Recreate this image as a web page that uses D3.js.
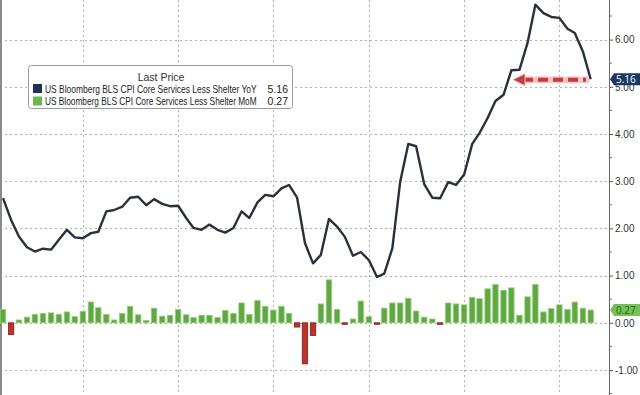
<!DOCTYPE html>
<html>
<head>
<meta charset="utf-8">
<script src="https://cdn.jsdelivr.net/npm/d3@7"></script>
<style>
  body { margin: 0; background: #fff; }
  svg { display: block; font-family: "Open Sans", "DejaVu Sans", sans-serif; }
  .lg { font-family: "Liberation Sans", Arial, sans-serif; }
</style>
</head>
<body>
<svg id="chart" width="640" height="395"></svg>
<script>
// monthly, Mar 2017 .. May 2023
const startMonth = new Date(Date.UTC(2017, 2, 1));
const endMonth = new Date(Date.UTC(2023, 5, 1));
const months = d3.utcMonth.range(startMonth, endMonth);

const yoy = [2.64, 2.18, 1.83, 1.60, 1.51, 1.57, 1.55, 1.76, 1.97, 1.81,
             1.79, 1.90, 1.93, 2.36, 2.39, 2.46, 2.65, 2.67, 2.49, 2.62,
             2.52, 2.47, 2.48, 2.22, 2.01, 1.97, 2.08, 1.97, 1.91, 2.01,
             2.36, 2.22, 2.55, 2.71, 2.68, 2.85, 2.92, 2.65, 1.69, 1.26,
             1.44, 2.20, 2.04, 1.82, 1.42, 1.50, 1.33, 0.97, 1.04, 1.58,
             2.99, 3.79, 3.74, 2.94, 2.65, 2.64, 2.98, 2.92, 3.14, 3.79,
             4.02, 4.34, 4.70, 4.83, 5.35, 5.36, 5.93, 6.74, 6.56, 6.48,
             6.46, 6.23, 6.14, 5.75, 5.16];

const mom = [0.28, -0.25, 0.06, 0.12, 0.18, 0.20, 0.21, 0.18, 0.23, 0.13,
             0.24, 0.44, 0.32, 0.18, 0.06, 0.20, 0.35, 0.17, 0.05, 0.31,
             0.14, 0.16, 0.28, 0.17, 0.11, 0.16, 0.16, 0.11, 0.26, 0.20,
             0.42, 0.18, 0.47, 0.35, 0.27, 0.35, 0.20, -0.09, -0.87, -0.27,
             0.40, 0.91, 0.28, -0.02, 0.08, 0.46, 0.13, -0.03, 0.31, 0.42,
             0.42, 0.52, 0.25, 0.12, 0.08, -0.01, 0.42, 0.40, 0.38, 0.54,
             0.51, 0.72, 0.81, 0.69, 0.74, 0.16, 0.55, 0.81, 0.23, 0.30,
             0.38, 0.28, 0.44, 0.31, 0.27];

const yTicks = [-1, 0, 1, 2, 3, 4, 5, 6];
const seriesNames = ["US Bloomberg BLS CPI Core Services Less Shelter YoY",
                     "US Bloomberg BLS CPI Core Services Less Shelter MoM"];
const lastYoy = "5.16", lastMom = "0.27";

const svg = d3.select("#chart");
const axisX = 609;

const x = d3.scaleUtc()
    .domain([months[0], months[months.length - 1]])
    .range([3, 590.7]);
const y = d3.scaleLinear().domain([-1, 6]).range([370, 39.6]);
const barW = 5.4;

// grid
const grid = svg.append("g").attr("stroke", "#b0b0b0").attr("stroke-dasharray", "2,3");
d3.range(-2, 8).forEach(v => {
    grid.append("line").attr("x1", 0).attr("x2", axisX)
        .attr("y1", Math.round(y(v)) + 0.5).attr("y2", Math.round(y(v)) + 0.5);
});
d3.utcYear.range(months[0], endMonth).forEach(d => {
    const gx = Math.round(x(d)) + 0.5;
    grid.append("line").attr("x1", gx).attr("x2", gx).attr("y1", 0).attr("y2", 395);
});

// left edge
svg.append("line").attr("x1", 1).attr("x2", 1).attr("y1", 0).attr("y2", 395)
    .attr("stroke", "#8a8a8a").attr("stroke-width", 2);

// bars
svg.append("g").selectAll("rect").data(mom).join("rect")
    .attr("x", (d, i) => x(months[i]) - barW / 2)
    .attr("width", barW)
    .attr("y", d => y(Math.max(0, d)))
    .attr("height", d => Math.max(1.5, Math.abs(y(d) - y(0))))
    .attr("fill", d => d >= 0 ? "#5fa843" : "#c23128")
    .attr("stroke", d => d >= 0 ? "#8fcf72" : "#7e2019")
    .attr("stroke-width", 0.8);

// line
const line = d3.line().x((d, i) => x(months[i])).y(d => y(d));
svg.append("path").datum(yoy)
    .attr("d", line)
    .attr("fill", "none")
    .attr("stroke", "#2a303c")
    .attr("stroke-width", 2.4)
    .attr("stroke-linejoin", "round");

// y axis
const axis = svg.append("g").attr("transform", `translate(${axisX},0)`)
    .call(d3.axisRight(y).tickValues(yTicks).tickSize(4).tickFormat(d3.format(".2f")));
axis.select(".domain").remove();
axis.selectAll(".tick line").attr("stroke", "#555");
axis.selectAll(".tick text").attr("fill", "#333").attr("font-size", 10).attr("x", 6)
    .text(d => d < 0 ? "-" + d3.format(".2f")(-d) : d3.format(".2f")(d));
svg.append("line").attr("x1", axisX + 0.5).attr("x2", axisX + 0.5).attr("y1", 0).attr("y2", 395)
    .attr("stroke", "#666");
d3.range(-1.5, 7, 1).forEach(v => {
    svg.append("line").attr("x1", axisX).attr("x2", axisX + 3)
        .attr("y1", y(v)).attr("y2", y(v)).attr("stroke", "#777");
});

// red dashed arrow
const ay = y(+lastYoy) + 0.5;
const arrow = svg.append("g");
arrow.append("line").attr("x1", 523).attr("x2", 586).attr("y1", ay).attr("y2", ay)
    .attr("stroke", "#f3b8b8").attr("stroke-width", 7).attr("stroke-dasharray", "10,5")
    .attr("stroke-linecap", "round").attr("opacity", 0.8);
arrow.append("line").attr("x1", 523).attr("x2", 586).attr("y1", ay).attr("y2", ay)
    .attr("stroke", "#c43c3c").attr("stroke-width", 4).attr("stroke-dasharray", "10,5");
arrow.append("path")
    .attr("d", `M513,${ay} L525,${ay - 6} L525,${ay + 6} Z`)
    .attr("fill", "#c43c3c").attr("stroke", "#f3b8b8").attr("stroke-width", 1);

// last value labels
function tag(val, fill, color) {
    const ty = y(+val);
    svg.append("path")
        .attr("d", `M${axisX + 1},${ty} L${axisX + 5},${ty - 6} L640,${ty - 6} L640,${ty + 6} L${axisX + 5},${ty + 6} Z`)
        .attr("fill", fill);
    svg.append("text").attr("x", axisX + 7).attr("y", ty + 3.8)
        .attr("font-size", 10).attr("fill", color).text(val);
}
tag(lastYoy, "#1d3a66", "#ffffff");
tag(lastMom, "#74c257", "#2b5d1c");

// legend
const lg = svg.append("g").attr("class", "lg");
lg.append("rect").attr("x", 28.5).attr("y", 65.5).attr("width", 264).attr("height", 43)
    .attr("rx", 3).attr("fill", "#fff").attr("stroke", "#9a9a9a");
lg.append("text").attr("x", 161).attr("y", 81).attr("text-anchor", "middle")
    .attr("font-size", 10.5).attr("fill", "#333").text("Last Price");
[[seriesNames[0], lastYoy, "#1f3354"], [seriesNames[1], lastMom, "#6db752"]].forEach((r, i) => {
    const ry = 84 + i * 12.5;
    lg.append("rect").attr("x", 33).attr("y", ry).attr("width", 9).attr("height", 9).attr("fill", r[2]);
    // squeeze the long name horizontally so it fits like the narrow original font
    const g = lg.append("g");
    const t = g.append("text").attr("x", 0).attr("y", 0).attr("font-size", 10.5)
        .attr("fill", "#222").text(r[0]);
    const k = 212 / t.node().getComputedTextLength();
    g.attr("transform", `translate(45,${ry + 8.5}) scale(${k},1)`);
    lg.append("text").attr("x", 288).attr("y", ry + 8.5).attr("font-size", 10.5)
        .attr("text-anchor", "end").attr("fill", "#222").text(r[1]);
});
</script>
</body>
</html>
